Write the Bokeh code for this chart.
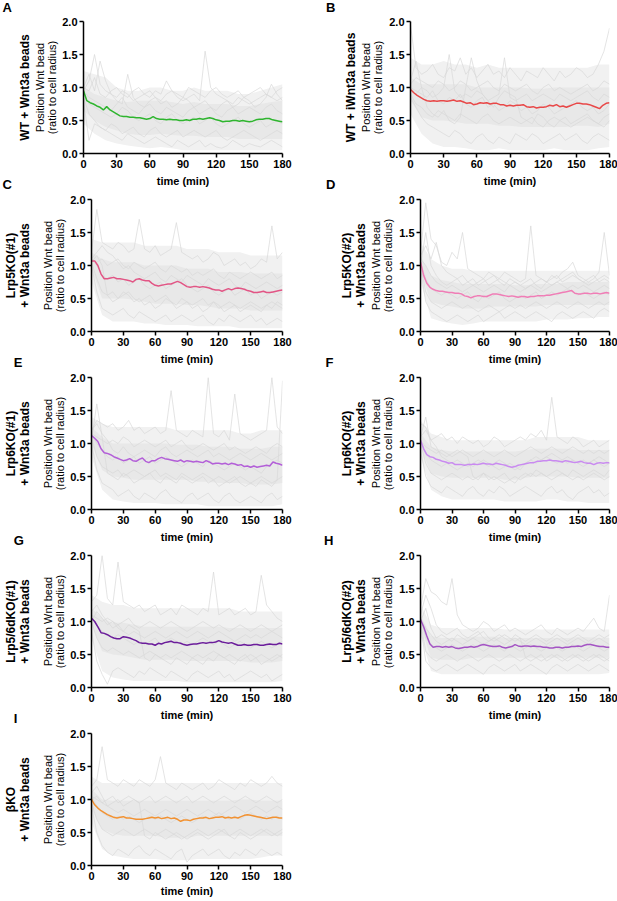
import numpy as np
from bokeh.plotting import figure
from bokeh.models import Range1d, Label, FixedTicker, PrintfTickFormatter, LinearAxis
from bokeh.layouts import column, row
from bokeh.embed import file_html
from bokeh.resources import INLINE

# ---------------- data ----------------
time_mean = list(range(0, 181, 3))
time_trace = list(range(0, 181, 5))
time_band = list(range(0, 181, 10))
x_ticks = [0, 30, 60, 90, 120, 150, 180]
y_ticks = [0.0, 0.5, 1.0, 1.5, 2.0]

panel_letters = ["A", "B", "C", "D", "E", "F", "G", "H", "I"]
condition_labels = ["WT + Wnt3a beads", "WT + iWnt3a beads",
                    "Lrp5KO(#1)\n+ Wnt3a beads", "Lrp5KO(#2)\n+ Wnt3a beads",
                    "Lrp6KO(#1)\n+ Wnt3a beads", "Lrp6KO(#2)\n+ Wnt3a beads",
                    "Lrp5/6dKO(#1)\n+ Wnt3a beads", "Lrp5/6dKO(#2)\n+ Wnt3a beads",
                    "βKO\n+ Wnt3a beads"]
mean_colors = ["#2fb52f", "#e84848", "#e25585", "#f07db6", "#b35fd8",
               "#c98af0", "#6b1d9b", "#a455c4", "#f29232"]

mean_A = [0.95,0.80,0.77,0.75,0.72,0.70,0.66,0.71,0.66,0.63,0.60,0.57,0.56,0.56,0.55,0.55,0.54,0.54,0.53,0.52,
          0.53,0.56,0.53,0.52,0.52,0.51,0.52,0.51,0.51,0.50,0.50,0.51,0.50,0.52,0.52,0.53,0.52,0.53,0.54,0.53,
          0.51,0.50,0.48,0.49,0.49,0.50,0.50,0.49,0.50,0.49,0.48,0.49,0.51,0.52,0.52,0.53,0.53,0.51,0.50,0.49,0.48]
mean_B = [0.97,0.92,0.88,0.85,0.82,0.80,0.79,0.80,0.79,0.80,0.80,0.79,0.80,0.81,0.79,0.80,0.78,0.76,0.77,0.74,
          0.75,0.77,0.76,0.77,0.75,0.76,0.76,0.74,0.74,0.72,0.73,0.72,0.73,0.73,0.74,0.71,0.70,0.71,0.69,0.70,
          0.70,0.71,0.73,0.72,0.74,0.71,0.72,0.70,0.72,0.74,0.76,0.76,0.75,0.75,0.74,0.72,0.70,0.68,0.73,0.76,0.77]
mean_C = [1.07,1.07,1.00,0.87,0.80,0.80,0.81,0.82,0.80,0.80,0.79,0.78,0.77,0.75,0.79,0.80,0.78,0.77,0.77,0.73,
          0.70,0.69,0.70,0.71,0.72,0.72,0.74,0.76,0.74,0.71,0.68,0.67,0.68,0.68,0.67,0.68,0.67,0.66,0.64,0.63,
          0.63,0.61,0.63,0.65,0.63,0.65,0.66,0.65,0.64,0.62,0.61,0.59,0.59,0.60,0.61,0.59,0.59,0.60,0.61,0.62,0.63]
mean_D = [1.05,0.85,0.73,0.67,0.64,0.62,0.61,0.61,0.60,0.59,0.59,0.58,0.58,0.57,0.54,0.53,0.51,0.53,0.54,0.54,
          0.53,0.53,0.55,0.57,0.57,0.56,0.55,0.54,0.53,0.54,0.53,0.52,0.53,0.53,0.52,0.53,0.53,0.54,0.54,0.54,
          0.55,0.55,0.56,0.57,0.58,0.59,0.60,0.61,0.62,0.58,0.57,0.57,0.58,0.58,0.57,0.58,0.58,0.57,0.58,0.59,0.58]
mean_E = [1.12,1.08,1.03,0.92,0.86,0.85,0.83,0.80,0.78,0.76,0.74,0.75,0.77,0.74,0.73,0.76,0.78,0.73,0.71,0.74,
          0.74,0.77,0.79,0.77,0.76,0.75,0.74,0.73,0.75,0.72,0.74,0.73,0.72,0.73,0.72,0.71,0.74,0.72,0.69,0.70,
          0.70,0.69,0.70,0.68,0.70,0.69,0.67,0.68,0.65,0.66,0.64,0.66,0.64,0.65,0.66,0.67,0.66,0.72,0.70,0.69,0.67]
mean_F = [1.05,0.92,0.83,0.80,0.79,0.76,0.75,0.73,0.72,0.70,0.71,0.68,0.68,0.68,0.67,0.68,0.68,0.69,0.68,0.69,
          0.70,0.69,0.69,0.68,0.70,0.69,0.68,0.67,0.65,0.64,0.65,0.67,0.68,0.69,0.70,0.71,0.71,0.73,0.73,0.74,
          0.74,0.75,0.74,0.74,0.73,0.72,0.74,0.73,0.72,0.71,0.72,0.73,0.71,0.70,0.70,0.68,0.70,0.71,0.70,0.71,0.71]
mean_G = [1.05,1.00,0.92,0.83,0.82,0.80,0.77,0.75,0.74,0.74,0.77,0.76,0.75,0.73,0.71,0.68,0.67,0.67,0.66,0.66,
          0.64,0.67,0.66,0.68,0.69,0.70,0.68,0.68,0.67,0.65,0.64,0.65,0.66,0.66,0.67,0.68,0.67,0.68,0.68,0.69,
          0.71,0.69,0.68,0.67,0.68,0.66,0.64,0.64,0.65,0.64,0.64,0.65,0.65,0.64,0.64,0.65,0.66,0.65,0.65,0.67,0.66]
mean_H = [1.03,0.92,0.78,0.66,0.61,0.62,0.62,0.61,0.62,0.61,0.62,0.60,0.59,0.60,0.61,0.61,0.62,0.61,0.62,0.64,
          0.65,0.64,0.63,0.62,0.62,0.63,0.61,0.60,0.61,0.62,0.65,0.63,0.62,0.63,0.63,0.62,0.63,0.62,0.62,0.61,
          0.61,0.60,0.60,0.61,0.61,0.60,0.61,0.61,0.62,0.62,0.63,0.62,0.64,0.65,0.65,0.64,0.63,0.62,0.62,0.61,0.61]
mean_I = [1.00,0.92,0.87,0.83,0.80,0.77,0.75,0.73,0.72,0.73,0.74,0.72,0.72,0.71,0.70,0.70,0.70,0.71,0.72,0.73,
          0.72,0.73,0.71,0.72,0.73,0.71,0.72,0.70,0.67,0.69,0.69,0.68,0.70,0.71,0.72,0.72,0.73,0.71,0.72,0.73,
          0.73,0.74,0.72,0.73,0.72,0.73,0.72,0.74,0.76,0.77,0.76,0.75,0.74,0.73,0.72,0.71,0.72,0.73,0.73,0.72,0.72]

traces_A = [
    [0.95,1.10,1.50,1.05,0.95,0.90,0.85,0.95,0.90,0.80, 0.85,0.90,0.95,0.85,0.80,0.90,0.95,0.85,0.80,0.85,
     0.90,0.80,1.55,1.00,0.90,0.85,0.80,0.75,0.85,0.80, 0.75,0.80,0.85,0.90,0.85,0.80,0.85],
    [0.80,0.20,0.45,0.40,0.35,0.30,0.25,0.20,0.30,0.25, 0.20,0.15,0.20,0.25,0.20,0.15,0.10,0.20,0.15,0.10,
     0.15,0.20,0.10,0.15,0.10,0.08,0.12,0.20,0.15,0.10, 0.15,0.12,0.10,0.15,0.20,0.15,0.10],
    [0.90,0.75,0.70,0.65,0.60,0.55,0.60,0.70,0.65,0.55, 0.50,0.55,0.60,0.50,0.45,0.55,0.60,0.50,0.45,0.50,
     0.55,0.45,0.50,0.55,0.45,0.40,0.45,0.50,0.55,0.45, 0.40,0.45,0.50,0.40,0.45,0.50,0.45],
    [1.00,1.20,0.95,1.40,1.10,0.90,0.80,0.75,1.20,0.85, 0.75,0.70,0.80,0.85,0.75,0.80,0.70,0.75,0.85,0.80,
     0.70,0.75,0.80,0.70,0.65,0.75,0.80,0.70,0.75,0.85, 0.80,0.70,0.75,0.85,1.05,0.90,0.80],
    [1.00,0.95,1.15,0.90,0.85,0.95,1.00,0.90,0.85,0.95, 1.00,0.90,0.85,0.95,0.90,1.10,0.95,0.90,0.85,1.00,
     0.95,0.90,0.85,0.95,1.00,0.90,0.85,0.90,0.95,0.85, 0.90,0.95,1.00,0.90,0.85,0.95,1.00],
    [0.85,0.60,0.50,0.40,0.35,0.45,0.40,0.30,0.35,0.40, 0.30,0.25,0.35,0.40,0.30,0.25,0.30,0.35,0.25,0.30,
     0.35,0.30,0.25,0.30,0.35,0.25,0.20,0.25,0.30,0.35, 0.30,0.25,0.20,0.25,0.30,0.35,0.30],
    [0.95,0.85,0.80,0.75,0.70,0.65,0.75,0.85,0.70,0.65, 0.60,0.70,0.75,0.65,0.60,0.70,0.65,0.60,0.55,0.65,
     0.70,0.60,0.65,0.70,0.60,0.55,0.65,0.70,0.60,0.65, 0.70,0.65,0.60,0.70,0.75,0.65,0.60]]
traces_B = [
    [1.95,1.30,1.20,1.25,1.35,1.20,1.15,1.30,1.25,1.45, 1.20,1.30,1.15,1.25,1.35,1.20,1.25,1.15,1.30,1.20,
     1.10,1.25,1.20,1.15,1.30,1.20,1.10,1.25,1.15,1.20, 1.30,1.25,1.15,1.20,1.35,1.55,1.90],
    [0.85,0.70,0.55,0.45,0.40,0.35,0.30,0.25,0.35,0.30, 0.20,0.15,0.25,0.30,0.20,0.15,0.25,0.20,0.15,0.30,
     0.25,0.20,0.30,0.25,0.15,0.20,0.25,0.30,0.20,0.25, 0.30,0.20,0.15,0.25,0.30,0.25,0.20],
    [1.00,0.95,0.90,0.85,0.95,0.80,0.75,0.85,0.80,0.90, 0.75,0.70,0.80,0.85,0.70,0.75,0.65,0.70,0.80,0.75,
     0.65,0.70,0.60,0.65,0.75,0.70,0.60,0.65,0.70,0.75, 0.80,0.70,0.65,0.70,0.60,0.65,0.75],
    [1.10,1.40,1.00,0.70,0.60,0.55,0.65,0.50,0.45,0.55, 1.00,1.45,1.10,0.90,0.80,0.70,0.85,0.95,0.90,0.85,
     0.55,0.50,0.45,0.60,0.55,0.45,0.40,0.50,0.55,0.45, 0.50,0.55,0.60,0.50,0.45,0.55,0.60],
    [1.05,1.15,1.10,1.05,1.00,1.10,1.05,0.95,1.00,1.10, 1.05,0.95,1.00,1.05,1.10,1.00,0.95,1.05,1.00,0.95,
     1.00,1.05,0.95,0.90,1.00,1.05,0.95,1.00,0.95,0.90, 0.95,1.00,1.05,0.95,1.00,1.10,1.05],
    [0.90,0.75,0.70,0.60,0.55,0.65,0.60,0.55,0.50,0.60, 0.55,0.50,0.45,0.55,0.60,0.50,0.45,0.50,0.55,0.50,
     0.45,0.50,0.55,0.45,0.40,0.50,0.55,0.50,0.45,0.40, 0.45,0.50,0.55,0.50,0.45,0.40,0.50],
    [1.00,0.90,1.00,0.95,0.85,0.90,1.00,1.50,0.95,0.85, 0.90,0.85,0.95,0.90,0.80,0.85,0.90,1.45,0.85,0.80,
     0.85,0.90,0.80,0.85,0.90,0.85,0.80,0.90,0.85,0.80, 0.85,0.90,0.95,0.85,0.80,0.90,0.85]]
traces_C = [
    [1.20,1.85,1.35,1.30,1.25,1.35,1.30,1.20,1.25,1.70, 1.25,1.20,1.30,1.15,1.20,1.25,1.65,1.20,1.15,1.10,
     1.15,1.05,1.10,1.20,1.15,1.00,1.05,1.10,1.00,1.05, 0.95,1.00,1.10,1.05,1.60,1.10,1.20],
    [1.00,0.60,0.35,0.30,0.25,0.30,0.35,0.25,0.20,0.30, 0.25,0.20,0.15,0.20,0.25,0.15,0.20,0.25,0.20,0.15,
     0.20,0.25,0.15,0.10,0.20,0.15,0.25,0.20,0.15,0.20, 0.25,0.15,0.20,0.10,0.15,0.20,0.15],
    [1.10,1.00,0.85,0.80,0.85,0.75,0.80,0.70,0.75,0.80, 0.70,0.65,0.70,0.75,0.65,0.70,0.75,0.80,0.70,0.65,
     0.60,0.65,0.70,0.60,0.55,0.60,0.65,0.55,0.60,0.65, 0.55,0.60,0.50,0.55,0.60,0.55,0.60],
    [1.05,1.15,1.00,0.55,0.45,0.50,0.60,0.55,0.45,0.50, 0.40,0.45,0.35,0.40,0.50,0.45,0.35,0.40,0.45,0.35,
     0.40,0.30,0.35,0.45,0.40,0.30,0.35,0.40,0.30,0.35, 0.40,0.35,0.30,0.40,0.35,0.45,0.40],
    [1.10,1.05,1.10,1.00,1.05,1.10,1.00,0.95,1.05,1.00, 0.95,1.00,1.05,0.95,0.90,1.00,0.95,0.90,0.95,0.85,
     0.90,0.85,0.90,0.95,0.85,0.80,0.90,0.85,0.80,0.85, 0.90,0.85,0.80,0.85,0.90,0.80,0.85],
    [1.05,0.80,0.60,0.55,0.60,0.50,0.55,0.60,0.50,0.45, 0.50,0.55,0.45,0.50,0.55,0.45,0.40,0.50,0.45,0.40,
     0.45,0.50,0.40,0.45,0.35,0.40,0.45,0.40,0.35,0.40, 0.45,0.40,0.35,0.40,0.45,0.40,0.35],
    [1.10,1.20,1.30,1.20,1.15,1.05,0.95,1.00,0.90,0.85, 0.80,0.85,0.90,0.80,0.75,0.85,0.80,0.75,0.85,0.80,
     0.75,0.70,0.80,0.75,0.70,0.75,0.80,0.70,0.65,0.75, 0.70,0.65,0.70,0.75,0.70,0.65,0.70]]
traces_D = [
    [1.20,1.95,1.40,1.30,1.05,1.00,1.20,1.10,1.50,0.95, 0.90,0.85,0.80,0.90,0.85,0.80,0.90,0.85,0.80,0.75,
     0.80,1.60,0.85,0.80,0.75,0.85,0.80,0.90,0.95,1.05, 0.85,0.80,0.75,0.80,0.90,1.50,0.85],
    [0.95,0.45,0.30,0.25,0.20,0.15,0.20,0.25,0.20,0.15, 0.20,0.25,0.15,0.20,0.25,0.30,0.20,0.25,0.30,0.25,
     0.20,0.25,0.30,0.25,0.20,0.15,0.25,0.30,0.25,0.20, 0.25,0.30,0.25,0.20,0.30,0.35,0.30],
    [1.05,0.80,0.65,0.60,0.55,0.60,0.55,0.50,0.55,0.60, 0.50,0.45,0.55,0.50,0.55,0.60,0.50,0.45,0.50,0.55,
     0.50,0.55,0.60,0.50,0.55,0.60,0.55,0.60,0.65,0.60, 0.55,0.60,0.55,0.50,0.55,0.60,0.55],
    [1.00,1.50,1.00,0.85,0.75,0.70,0.75,0.80,0.70,0.75, 0.80,0.70,0.75,0.80,0.85,0.75,0.70,0.80,0.75,0.70,
     0.75,0.80,0.70,0.65,0.75,0.80,0.85,0.75,0.80,0.85, 0.80,0.75,0.80,0.85,0.75,0.80,0.75],
    [1.10,1.00,0.85,0.75,0.70,0.65,0.70,0.65,0.60,0.65, 0.70,0.65,0.60,0.65,0.70,0.65,0.60,0.70,0.65,0.60,
     0.65,0.70,0.65,0.60,0.65,0.70,0.75,0.70,0.65,0.70, 0.65,0.70,0.65,0.60,0.65,0.70,0.65],
    [1.00,0.60,0.45,0.40,0.35,0.40,0.45,0.40,0.35,0.40, 0.35,0.30,0.35,0.40,0.35,0.30,0.35,0.40,0.35,0.40,
     0.35,0.40,0.45,0.40,0.35,0.40,0.45,0.40,0.35,0.40, 0.45,0.40,0.35,0.40,0.45,0.40,0.45],
    [1.15,1.30,1.10,1.35,1.00,0.90,0.85,0.80,0.85,0.75, 0.70,0.75,0.80,0.70,0.75,0.80,0.75,0.70,0.75,0.70,
     0.65,0.70,0.75,0.80,0.75,0.70,0.75,0.80,0.85,0.90, 0.80,0.75,0.70,0.75,0.80,0.85,0.80]]
traces_E = [
    [1.20,1.35,1.30,1.25,1.30,1.20,1.25,1.35,1.20,1.25, 1.15,1.20,1.25,1.15,1.20,1.80,1.20,1.15,1.10,1.20,
     1.15,1.10,2.00,1.15,1.10,1.20,1.05,1.75,1.15,1.10, 1.05,1.10,1.15,1.20,2.00,1.25,1.15],
    [1.00,0.60,0.40,0.35,0.30,0.20,0.25,0.30,0.20,0.15, 0.25,0.20,0.15,0.25,0.30,0.20,0.15,0.10,0.20,0.25,
     0.15,0.20,0.25,0.15,0.10,0.20,0.25,0.15,0.10,0.15, 0.20,0.15,0.10,0.20,0.25,0.15,0.20],
    [1.15,1.00,0.90,0.80,0.75,0.80,0.70,0.75,0.80,0.70, 0.75,0.80,0.70,0.75,0.80,0.75,0.70,0.65,0.70,0.75,
     0.70,0.65,0.75,0.70,0.65,0.60,0.65,0.70,0.65,0.60, 0.65,0.60,0.55,0.65,0.70,0.75,0.70],
    [1.05,1.60,1.10,0.55,0.50,0.45,0.55,0.50,0.40,0.45, 0.50,0.55,0.45,0.40,0.50,0.45,0.40,0.50,0.45,0.40,
     0.45,0.50,0.40,0.45,0.35,0.40,0.45,0.50,0.40,0.35, 0.40,0.35,0.45,0.40,0.35,0.45,1.95],
    [1.15,1.10,1.05,1.00,1.05,1.00,1.10,1.05,0.95,1.00, 1.05,1.00,0.95,1.00,1.05,0.95,1.00,1.05,0.95,0.90,
     0.95,1.00,0.95,0.90,0.95,1.00,0.90,0.95,0.90,0.85, 0.90,0.95,0.90,0.85,0.95,1.00,0.95],
    [1.10,0.80,0.65,0.60,0.55,0.60,0.50,0.55,0.60,0.55, 0.50,0.55,0.60,0.50,0.55,0.50,0.45,0.55,0.50,0.45,
     0.50,0.55,0.50,0.45,0.50,0.45,0.40,0.45,0.50,0.45, 0.40,0.45,0.50,0.45,0.40,0.45,0.50],
    [1.20,1.30,1.15,1.05,0.90,0.85,0.95,0.85,0.80,0.85, 0.90,0.85,0.80,0.90,0.95,0.85,0.80,0.85,0.90,0.85,
     0.80,0.85,0.90,0.80,0.85,0.80,0.75,0.80,0.85,0.80, 0.75,0.80,0.85,0.80,0.75,0.80,0.85]]
traces_F = [
    [1.30,1.25,1.05,1.10,1.15,1.05,1.10,1.00,1.10,1.05, 1.00,1.05,0.95,1.00,1.10,1.05,0.95,1.00,1.05,1.10,
     1.05,1.15,1.10,1.20,1.05,1.70,1.10,1.05,1.00,1.10, 1.05,0.95,1.00,1.05,0.95,1.00,1.05],
    [0.90,0.50,0.35,0.30,0.25,0.35,0.30,0.25,0.20,0.30, 0.35,0.25,0.20,0.30,0.25,0.35,0.30,0.20,0.25,0.30,
     0.35,0.30,0.25,0.20,0.30,0.35,0.25,0.30,0.20,0.15, 0.25,0.30,0.35,0.25,0.30,0.20,0.25],
    [1.05,0.85,0.75,0.70,0.65,0.70,0.65,0.60,0.65,0.70, 0.65,0.70,0.75,0.70,0.65,0.60,0.65,0.70,0.65,0.60,
     0.70,0.75,0.70,0.75,0.80,0.75,0.70,0.75,0.70,0.75, 0.70,0.65,0.70,0.75,0.70,0.65,0.70],
    [1.10,1.40,0.95,0.90,0.85,0.80,0.85,0.90,0.85,0.80, 0.50,0.45,0.55,0.50,0.45,0.50,0.55,0.45,0.40,0.50,
     0.55,0.50,0.60,0.55,0.50,0.55,0.60,0.55,0.50,0.60, 0.55,0.50,0.55,0.60,0.55,0.50,0.60],
    [1.05,0.95,0.90,0.85,0.90,0.85,0.80,0.85,0.90,0.85, 0.80,0.85,0.90,0.85,0.80,0.85,0.90,0.85,0.80,0.85,
     0.90,0.95,0.90,0.85,0.90,0.95,0.90,0.85,0.90,0.95, 0.90,0.85,0.90,0.85,0.90,0.85,0.90],
    [1.00,0.70,0.55,0.50,0.45,0.50,0.55,0.50,0.45,0.50, 0.45,0.50,0.55,0.45,0.50,0.45,0.40,0.45,0.50,0.45,
     0.50,0.55,0.50,0.55,0.50,0.45,0.50,0.55,0.50,0.45, 0.50,0.45,0.50,0.55,0.50,0.45,0.50],
    [1.10,1.20,1.05,0.95,0.80,0.75,0.70,0.75,0.70,0.65, 0.70,0.75,0.70,0.65,0.70,0.75,0.70,0.65,0.60,0.65,
     0.70,0.75,0.80,0.75,0.80,0.85,0.80,0.75,0.80,0.75, 0.70,0.75,0.70,0.75,0.80,0.75,0.70]]
traces_G = [
    [1.30,1.40,2.00,1.35,1.25,1.90,1.30,1.25,1.20,1.25, 1.15,1.20,1.25,1.10,1.15,1.20,1.10,1.25,1.20,1.15,
     1.10,1.20,1.15,1.75,1.10,1.15,1.20,1.10,1.15,1.20, 1.10,1.15,1.70,1.25,1.15,1.05,1.00],
    [0.85,0.40,0.20,0.05,0.25,0.30,0.25,0.20,0.15,0.25, 0.20,0.30,0.25,0.20,0.15,0.25,0.20,0.15,0.10,0.20,
     0.25,0.20,0.15,0.20,0.25,0.15,0.20,0.10,0.15,0.20, 0.25,0.20,0.15,0.20,0.10,0.15,0.20],
    [1.10,0.95,0.85,0.80,0.75,0.80,0.75,0.70,0.65,0.70, 0.65,0.70,0.75,0.65,0.70,0.75,0.70,0.65,0.70,0.65,
     0.70,0.75,0.70,0.65,0.70,0.65,0.60,0.65,0.70,0.65, 0.60,0.65,0.70,0.65,0.60,0.65,0.70],
    [1.00,1.15,1.05,0.95,1.00,0.90,0.85,0.95,0.90,0.85, 0.45,0.40,0.50,0.45,0.40,0.35,0.45,0.40,0.35,0.45,
     0.40,0.35,0.45,0.40,0.50,0.45,0.40,0.35,0.45,0.50, 0.40,0.45,0.35,0.40,0.45,0.50,0.45],
    [1.10,1.05,1.00,1.05,1.00,0.95,1.00,1.05,0.95,0.90, 0.95,1.00,0.95,0.90,0.95,1.00,0.95,0.90,0.85,0.90,
     0.95,1.00,0.95,0.90,0.95,0.90,0.85,0.90,0.95,0.90, 0.85,0.90,0.95,0.90,0.85,0.90,0.95],
    [1.00,0.75,0.60,0.55,0.60,0.55,0.50,0.55,0.50,0.45, 0.50,0.55,0.50,0.45,0.50,0.45,0.50,0.55,0.50,0.45,
     0.50,0.45,0.50,0.55,0.50,0.45,0.50,0.45,0.40,0.45, 0.50,0.45,0.50,0.45,0.40,0.45,0.50],
    [1.15,1.25,1.10,1.00,0.90,0.95,0.85,0.80,0.85,0.80, 0.75,0.80,0.85,0.80,0.75,0.80,0.85,0.80,0.75,0.80,
     0.85,0.80,0.75,0.80,0.85,0.80,0.75,0.70,0.75,0.80, 0.75,0.80,0.75,0.80,0.85,0.80,0.75]]
traces_H = [
    [1.20,1.65,1.45,1.40,1.30,1.25,1.65,1.10,0.95,0.90, 0.85,0.90,1.00,0.95,0.85,0.90,0.95,0.85,0.90,0.85,
     0.80,0.85,0.90,0.95,0.85,0.80,0.90,0.85,0.80,0.85, 0.90,0.85,0.95,1.05,0.90,0.85,1.40],
    [0.95,0.40,0.30,0.25,0.30,0.35,0.30,0.25,0.30,0.35, 0.30,0.25,0.20,0.30,0.35,0.30,0.25,0.30,0.35,0.25,
     0.30,0.35,0.30,0.25,0.20,0.30,0.35,0.30,0.25,0.30, 0.35,0.30,0.25,0.30,0.35,0.30,0.25],
    [1.05,0.75,0.65,0.60,0.55,0.60,0.65,0.60,0.55,0.60, 0.65,0.60,0.55,0.60,0.65,0.60,0.55,0.65,0.60,0.55,
     0.60,0.65,0.60,0.55,0.60,0.65,0.60,0.55,0.60,0.65, 0.60,0.55,0.60,0.65,0.60,0.55,0.60],
    [1.00,1.20,0.90,0.75,0.80,0.75,0.70,0.80,0.75,0.70, 0.75,0.80,0.85,0.75,0.70,0.75,0.80,0.75,0.70,0.75,
     0.45,0.40,0.45,0.50,0.40,0.45,0.50,0.45,0.40,0.45, 0.50,0.45,0.40,0.45,0.50,0.45,0.40],
    [1.05,0.90,0.80,0.70,0.65,0.70,0.75,0.70,0.65,0.70, 0.75,0.70,0.65,0.70,0.75,0.70,0.65,0.70,0.75,0.70,
     0.65,0.70,0.75,0.70,0.65,0.70,0.75,0.70,0.65,0.70, 0.75,0.70,0.65,0.70,0.75,0.70,0.65],
    [1.00,0.55,0.45,0.40,0.45,0.50,0.45,0.40,0.45,0.50, 0.45,0.40,0.45,0.50,0.45,0.40,0.45,0.50,0.45,0.40,
     0.45,0.50,0.45,0.40,0.45,0.50,0.45,0.40,0.45,0.50, 0.45,0.40,0.45,0.50,0.45,0.40,0.45],
    [1.10,1.40,1.20,0.95,0.85,0.80,0.85,0.90,0.80,0.75, 0.80,0.85,0.75,0.70,0.75,0.80,0.75,0.70,0.80,0.75,
     0.70,0.75,0.80,0.75,0.70,0.75,0.80,0.75,0.70,0.75, 0.80,0.75,0.70,0.75,0.80,0.75,0.80]]
traces_I = [
    [1.20,1.30,1.80,1.30,1.25,1.20,1.30,1.25,1.20,1.30, 1.25,1.20,1.30,1.65,1.25,1.20,1.15,1.25,1.20,1.15,
     1.20,1.25,1.15,1.20,1.30,1.25,1.20,1.15,1.25,1.20, 1.30,1.25,1.20,1.25,1.35,1.25,1.20],
    [0.90,0.50,0.30,0.20,0.15,0.25,0.20,0.15,0.25,0.30, 0.20,0.15,0.25,0.20,0.15,0.10,0.20,0.25,0.05,0.15,
     0.20,0.25,0.15,0.20,0.25,0.15,0.10,0.20,0.15,0.25, 0.20,0.15,0.25,0.20,0.15,0.20,0.15],
    [1.05,0.90,0.80,0.75,0.70,0.75,0.70,0.75,0.70,0.65, 0.70,0.75,0.70,0.75,0.70,0.65,0.70,0.75,0.70,0.65,
     0.70,0.75,0.70,0.75,0.80,0.75,0.70,0.75,0.70,0.75, 0.80,0.75,0.70,0.75,0.70,0.75,0.70],
    [1.00,1.05,0.95,0.90,0.95,1.00,0.90,0.95,1.00,0.95, 0.45,0.40,0.50,0.45,0.40,0.45,0.50,0.45,0.40,0.45,
     0.50,0.45,0.40,0.45,0.50,0.55,0.45,0.40,0.50,0.45, 0.40,0.45,0.50,0.55,0.50,0.45,0.50],
    [1.05,1.00,0.95,1.00,1.05,0.95,1.00,1.05,1.00,0.95, 1.00,1.05,0.95,1.00,1.05,1.00,0.95,1.00,1.05,0.95,
     1.00,1.05,1.00,0.95,1.00,1.05,1.00,0.95,1.00,1.05, 1.00,0.95,1.00,1.05,1.00,0.95,1.00],
    [0.95,0.70,0.55,0.50,0.45,0.50,0.55,0.50,0.45,0.50, 0.55,0.50,0.45,0.50,0.55,0.50,0.45,0.40,0.45,0.50,
     0.55,0.50,0.45,0.50,0.55,0.50,0.45,0.50,0.55,0.50, 0.45,0.50,0.55,0.50,0.45,0.50,0.55],
    [1.10,1.20,1.05,0.90,0.85,0.80,0.85,0.80,0.75,0.80, 0.85,0.80,0.75,0.80,0.85,0.80,0.75,0.80,0.85,0.80,
     0.75,0.80,0.85,0.80,0.75,0.80,0.85,0.90,0.85,0.80, 0.85,0.90,0.85,0.80,0.85,0.90,0.85]]

# cloud envelopes (outer = sparse traces, inner = dense traces), every 10 min
outer_hi_A = [1.25,1.20,1.15,1.00,0.95,0.95,1.00,1.00,0.95,0.95,1.00,0.95,0.95,0.95,0.90,0.90,0.95,1.00,1.05]
outer_lo_A = [0.45,0.30,0.20,0.15,0.12,0.10,0.08,0.10,0.08,0.05,0.05,0.05,0.05,0.05,0.05,0.05,0.05,0.05,0.05]
inner_hi_A = [1.00,0.90,0.85,0.80,0.78,0.80,0.80,0.80,0.78,0.75,0.78,0.75,0.75,0.75,0.72,0.72,0.75,0.78,0.80]
inner_lo_A = [0.65,0.50,0.40,0.35,0.30,0.28,0.28,0.30,0.28,0.27,0.27,0.25,0.25,0.25,0.22,0.22,0.22,0.22,0.22]
outer_hi_B = [1.45,1.35,1.35,1.40,1.35,1.35,1.30,1.35,1.30,1.30,1.30,1.30,1.30,1.30,1.30,1.30,1.30,1.35,1.35]
outer_lo_B = [0.60,0.30,0.15,0.10,0.10,0.08,0.05,0.05,0.08,0.05,0.05,0.05,0.05,0.08,0.05,0.05,0.05,0.08,0.10]
inner_hi_B = [1.15,1.05,1.05,1.05,1.05,1.05,1.00,1.00,1.00,1.00,1.00,0.98,0.98,1.00,1.00,1.00,1.00,1.00,1.00]
inner_lo_B = [0.80,0.55,0.50,0.50,0.48,0.45,0.45,0.45,0.42,0.42,0.40,0.40,0.40,0.40,0.40,0.42,0.42,0.40,0.45]
outer_hi_C = [1.40,1.35,1.35,1.35,1.35,1.30,1.30,1.30,1.30,1.25,1.25,1.25,1.20,1.20,1.20,1.15,1.15,1.15,1.15]
outer_lo_C = [0.75,0.25,0.15,0.15,0.15,0.12,0.12,0.10,0.10,0.10,0.08,0.08,0.08,0.08,0.05,0.05,0.05,0.05,0.05]
inner_hi_C = [1.20,1.10,1.05,1.05,1.05,1.00,1.00,1.00,1.00,0.95,0.95,0.95,0.90,0.90,0.90,0.88,0.88,0.88,0.88]
inner_lo_C = [0.95,0.50,0.50,0.50,0.48,0.45,0.42,0.42,0.42,0.40,0.40,0.38,0.35,0.35,0.35,0.32,0.32,0.32,0.32]
outer_hi_D = [1.35,1.10,1.00,0.95,0.95,0.92,0.92,0.92,0.92,0.92,0.92,0.92,0.92,0.92,0.92,0.92,0.92,0.92,0.92]
outer_lo_D = [0.75,0.20,0.15,0.12,0.10,0.12,0.15,0.15,0.15,0.15,0.15,0.15,0.18,0.18,0.18,0.20,0.20,0.22,0.22]
inner_hi_D = [1.15,0.85,0.78,0.75,0.72,0.72,0.72,0.72,0.72,0.70,0.70,0.72,0.72,0.72,0.75,0.75,0.75,0.75,0.75]
inner_lo_D = [0.90,0.45,0.40,0.38,0.35,0.35,0.35,0.38,0.38,0.38,0.38,0.38,0.40,0.40,0.40,0.40,0.40,0.40,0.40]
outer_hi_E = [1.40,1.30,1.25,1.25,1.25,1.25,1.25,1.25,1.20,1.20,1.20,1.20,1.20,1.20,1.15,1.15,1.20,1.20,1.20]
outer_lo_E = [0.80,0.30,0.15,0.12,0.10,0.10,0.10,0.08,0.08,0.08,0.08,0.05,0.05,0.05,0.05,0.05,0.05,0.05,0.08]
inner_hi_E = [1.25,1.10,1.00,1.00,1.00,1.00,1.00,1.00,0.98,0.98,0.98,0.95,0.95,0.95,0.92,0.92,0.92,0.95,0.95]
inner_lo_E = [1.00,0.60,0.50,0.48,0.45,0.45,0.45,0.45,0.45,0.45,0.42,0.42,0.40,0.40,0.40,0.38,0.38,0.38,0.40]
outer_hi_F = [1.35,1.15,1.10,1.05,1.05,1.05,1.05,1.05,1.05,1.05,1.05,1.10,1.10,1.10,1.10,1.10,1.05,1.05,1.05]
outer_lo_F = [0.80,0.30,0.20,0.15,0.15,0.15,0.15,0.15,0.12,0.12,0.12,0.12,0.15,0.15,0.12,0.12,0.10,0.10,0.10]
inner_hi_F = [1.15,0.95,0.90,0.88,0.88,0.88,0.88,0.88,0.88,0.88,0.90,0.92,0.92,0.92,0.92,0.90,0.90,0.90,0.90]
inner_lo_F = [0.95,0.55,0.50,0.48,0.48,0.48,0.48,0.48,0.45,0.45,0.48,0.50,0.50,0.50,0.50,0.48,0.48,0.48,0.48]
outer_hi_G = [1.40,1.30,1.25,1.25,1.20,1.20,1.20,1.20,1.20,1.20,1.20,1.20,1.20,1.20,1.15,1.15,1.15,1.15,1.15]
outer_lo_G = [0.75,0.25,0.15,0.12,0.10,0.10,0.10,0.10,0.10,0.08,0.08,0.08,0.08,0.08,0.08,0.08,0.08,0.08,0.10]
inner_hi_G = [1.20,1.05,0.98,0.98,0.95,0.92,0.92,0.92,0.92,0.92,0.92,0.92,0.92,0.90,0.90,0.90,0.90,0.90,0.90]
inner_lo_G = [0.95,0.55,0.50,0.48,0.45,0.42,0.42,0.42,0.42,0.40,0.40,0.40,0.40,0.40,0.40,0.38,0.38,0.38,0.40]
outer_hi_H = [1.25,0.95,0.90,0.90,0.88,0.90,0.90,0.90,0.88,0.88,0.88,0.88,0.88,0.88,0.88,0.88,0.88,0.88,0.88]
outer_lo_H = [0.80,0.25,0.20,0.20,0.20,0.20,0.20,0.20,0.20,0.20,0.20,0.20,0.20,0.20,0.20,0.20,0.20,0.20,0.22]
inner_hi_H = [1.10,0.78,0.75,0.75,0.75,0.77,0.77,0.77,0.75,0.75,0.75,0.75,0.75,0.75,0.75,0.76,0.76,0.75,0.75]
inner_lo_H = [0.92,0.45,0.42,0.42,0.42,0.45,0.45,0.45,0.45,0.45,0.45,0.45,0.45,0.45,0.45,0.45,0.45,0.45,0.45]
outer_hi_I = [1.35,1.25,1.25,1.25,1.25,1.25,1.25,1.25,1.25,1.25,1.25,1.25,1.25,1.25,1.25,1.25,1.25,1.25,1.25]
outer_lo_I = [0.65,0.25,0.15,0.12,0.10,0.10,0.10,0.08,0.08,0.08,0.10,0.10,0.10,0.10,0.10,0.10,0.12,0.15,0.15]
inner_hi_I = [1.15,1.00,0.98,0.98,0.98,0.98,0.98,0.98,0.98,0.98,0.98,0.98,0.98,0.98,1.00,1.00,0.98,0.98,0.98]
inner_lo_I = [0.85,0.55,0.48,0.45,0.45,0.45,0.45,0.42,0.42,0.42,0.45,0.45,0.45,0.45,0.45,0.45,0.45,0.45,0.45]

means = [mean_A, mean_B, mean_C, mean_D, mean_E, mean_F, mean_G, mean_H, mean_I]
traces = [traces_A, traces_B, traces_C, traces_D, traces_E, traces_F, traces_G, traces_H, traces_I]
outer_hi = [outer_hi_A, outer_hi_B, outer_hi_C, outer_hi_D, outer_hi_E, outer_hi_F, outer_hi_G, outer_hi_H, outer_hi_I]
outer_lo = [outer_lo_A, outer_lo_B, outer_lo_C, outer_lo_D, outer_lo_E, outer_lo_F, outer_lo_G, outer_lo_H, outer_lo_I]
inner_hi = [inner_hi_A, inner_hi_B, inner_hi_C, inner_hi_D, inner_hi_E, inner_hi_F, inner_hi_G, inner_hi_H, inner_hi_I]
inner_lo = [inner_lo_A, inner_lo_B, inner_lo_C, inner_lo_D, inner_lo_E, inner_lo_F, inner_lo_G, inner_lo_H, inner_lo_I]

# ---------------- drawing ----------------
FONT = "Liberation Sans"
FRAME_W, FRAME_H = 199, 132
PX_X = 180.0 / FRAME_W   # data units per pixel
PX_Y = 2.0 / FRAME_H
LEFT_W = 336             # width of left-column figures


def letter_label(text, x_px, y_px, align):
    # x_px / y_px: offset in pixels from frame's left / bottom edge
    return Label(x=x_px * PX_X, y=y_px * PX_Y, x_units="data", y_units="data",
                 text=text, text_font=FONT, text_font_style="bold", text_font_size="13px",
                 text_align=align, text_baseline="middle", text_color="black")


def make_panel(i):
    col = i % 2
    r = i // 2
    first = r == 0
    last = r == 4
    two = "\n" in condition_labels[i]
    if col == 0:
        bl, br = 83, LEFT_W - 83 - FRAME_W
    else:
        bl, br = 410 - LEFT_W, 8
    bt = 21 if first else 8
    bb = 34 if last else 38
    p = figure(width=bl + FRAME_W + br, height=bt + FRAME_H + bb,
               min_border_left=bl, min_border_right=br, min_border_top=bt, min_border_bottom=bb,
               x_range=Range1d(0, 180), y_range=Range1d(0, 2),
               toolbar_location=None, output_backend="svg",
               background_fill_color="white", border_fill_color="white")
    p.outline_line_color = None
    p.xgrid.visible = False
    p.ygrid.visible = False

    p.varea(x=time_band, y1=outer_lo[i], y2=outer_hi[i], fill_color="#f1f1f1")
    p.varea(x=time_band, y1=inner_lo[i], y2=inner_hi[i], fill_color="#e8e8e8")
    p.multi_line(xs=[time_trace[:len(t)] for t in traces[i]], ys=traces[i],
                 line_color="#d9d9d9", line_width=0.7)
    p.line(time_mean, means[i], line_color=mean_colors[i], line_width=1.5)

    p.xaxis.ticker = FixedTicker(ticks=x_ticks)
    p.yaxis.ticker = FixedTicker(ticks=y_ticks)
    p.yaxis.formatter = PrintfTickFormatter(format="%.1f")
    for ax in (p.xaxis[0], p.yaxis[0]):
        ax.axis_line_width = 1.5
        ax.axis_line_color = "black"
        ax.major_tick_line_width = 1.5
        ax.major_tick_line_color = "black"
        ax.major_tick_out = 4
        ax.major_tick_in = 0
        ax.minor_tick_line_color = None
        ax.major_label_text_font = FONT
        ax.major_label_text_font_style = "bold"
        ax.major_label_text_font_size = "11px"
        ax.major_label_text_color = "black"
        ax.major_label_standoff = 2

    xa = p.xaxis[0]
    xa.axis_label = "time (min)"
    xa.axis_label_text_font = FONT
    xa.axis_label_text_font_style = "bold"
    xa.axis_label_text_font_size = "11px"
    xa.axis_label_text_color = "black"
    xa.axis_label_standoff = 2 if last else 4

    ya = p.yaxis[0]
    ya.axis_label = "Position Wnt bead\n(ratio to cell radius)"
    ya.axis_label_text_font = FONT
    ya.axis_label_text_font_style = "normal"
    ya.axis_label_text_font_size = "11px"
    ya.axis_label_text_line_height = 1.0
    ya.axis_label_text_color = "black"
    ya.axis_label_standoff = 1 if col == 0 else 2

    if col == 0:
        bold_standoff = 8 if two else 0
    else:
        bold_standoff = 0
    extra = LinearAxis(axis_label=condition_labels[i], ticker=FixedTicker(ticks=[]),
                       axis_line_color=None, major_tick_out=0, major_tick_in=0,
                       minor_tick_out=0, minor_tick_in=0, major_label_standoff=0,
                       axis_label_standoff=bold_standoff, axis_label_text_font=FONT,
                       axis_label_text_font_style="bold", axis_label_text_font_size="12px",
                       axis_label_text_line_height=0.98, axis_label_text_color="black")
    p.add_layout(extra, "left")

    # panel letters live in the left-column figures' right side panel (not clipped)
    if col == 0:
        right_x = LEFT_W - bl - 1       # right edge of this canvas, relative to frame left
        left_x = -bl + 2
        if first:
            p.add_layout(letter_label(panel_letters[i], left_x, FRAME_H + 14, "left"), "right")
            p.add_layout(letter_label(panel_letters[i + 1], right_x, FRAME_H + 14, "right"), "right")
        if i + 2 < len(panel_letters):
            p.add_layout(letter_label(panel_letters[i + 2], left_x, -31, "left"), "right")
        if i + 3 < len(panel_letters):
            p.add_layout(letter_label(panel_letters[i + 3], right_x, -31, "right"), "right")
    return p


figs = [make_panel(i) for i in range(9)]
layout = column(
    row(figs[0], figs[1]),
    row(figs[2], figs[3]),
    row(figs[4], figs[5]),
    row(figs[6], figs[7]),
    row(figs[8]),
)

open("out.html", "w").write(file_html(layout, INLINE))
